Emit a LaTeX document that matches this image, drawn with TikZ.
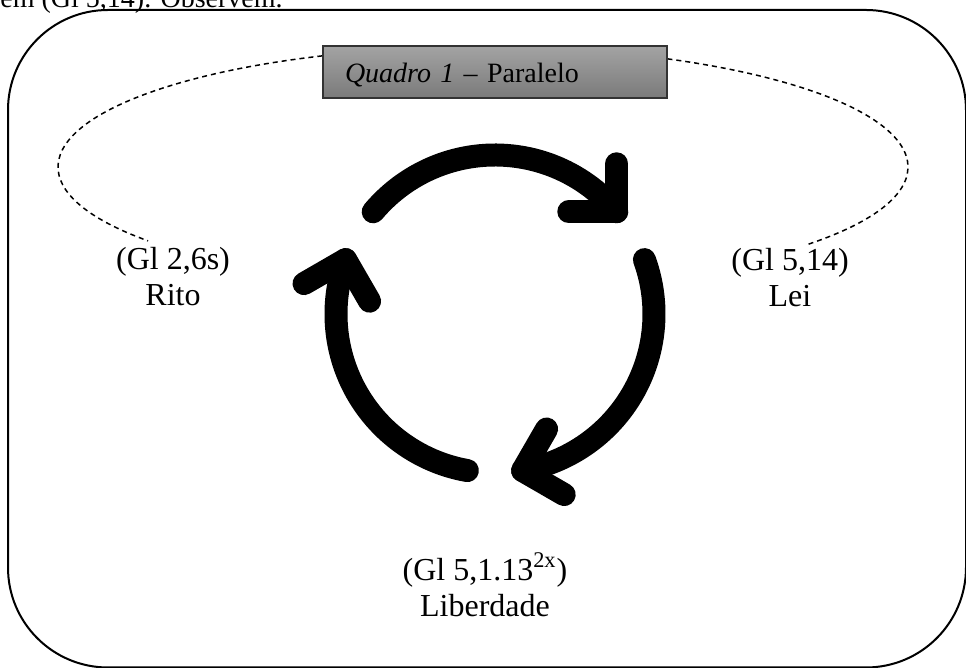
\documentclass[tikz,border=0pt]{standalone}
\usepackage{fontspec}
\setmainfont{Liberation Serif}
\begin{document}
\begin{tikzpicture}[x=0.5pt,y=0.5pt,
	rotulo/.style={align=center,font=\fontsize{16}{18}\selectfont},
	seta/.style={line width=11.5pt,line cap=round,line join=round},
	quadro/.style={draw=black!80,line width=0.7pt,top color=black!36,bottom color=black!52,minimum width=172pt,minimum height=26pt,text width=150pt,inner xsep=11pt,inner ysep=2pt,text height=12pt,text depth=1pt,align=left,font=\fontsize{14}{16}\selectfont}]
	\useasboundingbox (0,0) rectangle (966,668);
	%		\draw[thin,color=gray!20](0,0)grid[step=50](966,668);
	\node[anchor=base west,inner sep=0pt,font=\fontsize{14}{16}\selectfont] (topo) at (0,660) {em (Gl 5,14). Observem.};
	\draw[line width=1pt,rounded corners=50pt] (8,0.5) rectangle (966,658);
	\draw[line width=0.75pt,dash pattern=on 2.5pt off 2pt] (483,501) ++(-40:425 and 120) arc[start angle=-40,end angle=218,x radius=425,y radius=120];
	\node[quadro] (quadro) at (495,596) {\textit{Quadro 1} -- Paralelo};
	\coordinate (centro) at (495,354);
	\foreach \a in {140,20,-100}{
		\draw[seta] (centro) ++(\a:159) arc[start angle=\a,delta angle=-100,radius=159];
		\draw[seta] (centro) ++({\a-100}:159) coordinate (ponta) ++({\a+40}:48) -- (ponta) -- ++({\a-50}:48);
	}
	\node[rotulo] (rito) at (173,391) {(Gl 2,6s)\\Rito};
	\node[rotulo] (lei) at (790,390) {(Gl 5,14)\\Lei};
	\node[rotulo] (liberdade) at (485,83) {(Gl 5,1.13\textsuperscript{2x})\\Liberdade};
\end{tikzpicture}
\end{document}
